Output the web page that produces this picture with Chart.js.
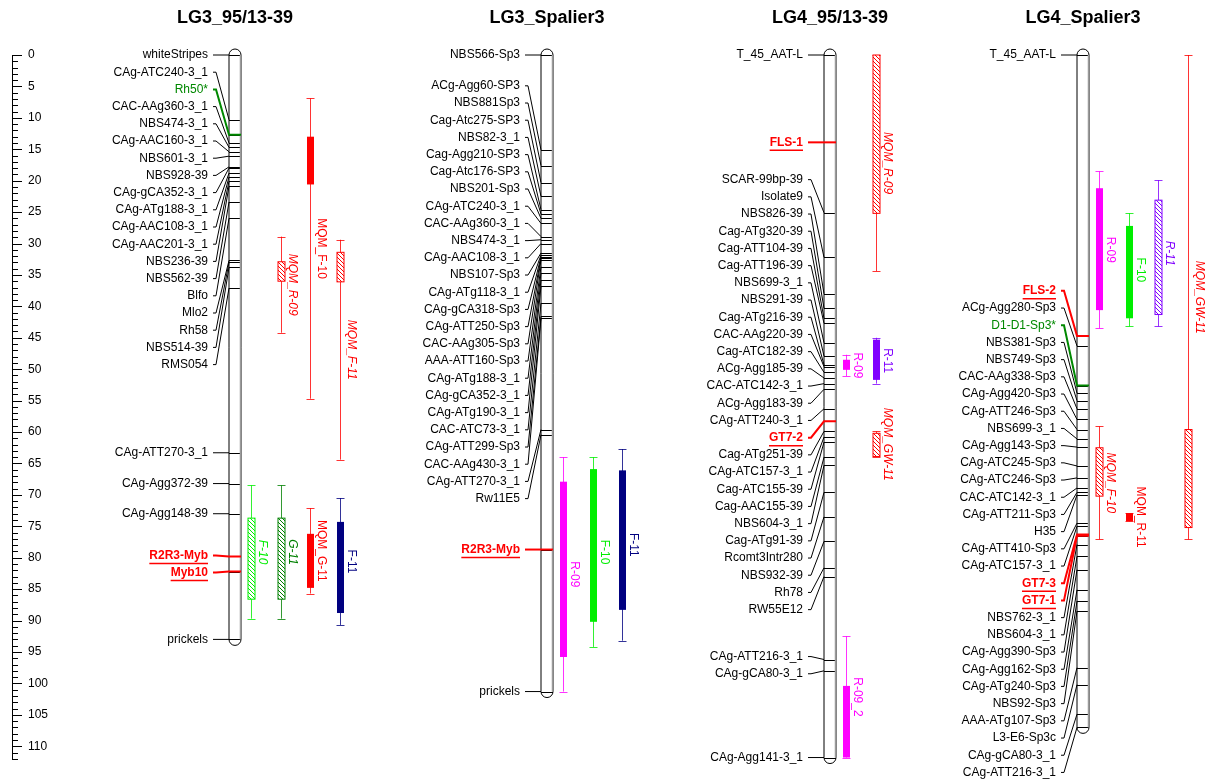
<!DOCTYPE html>
<html>
<head>
<meta charset="utf-8">
<title>Linkage groups LG3 / LG4</title>
<script src="https://cdn.jsdelivr.net/npm/chart.js@4.4.1/dist/chart.umd.min.js"></script>
<style>
  html, body { margin: 0; padding: 0; background: #fff; }
  #wrap { width: 1212px; height: 782px; position: relative; }
</style>
</head>
<body>
<div id="wrap"><canvas id="map"></canvas></div>
<script>
// linkage groups, left to right
const groups = ['LG3_95/13-39', 'LG3_Spalier3', 'LG4_95/13-39', 'LG4_Spalier3'];

// cM scale labels
const cmTicks = [0, 5, 10, 15, 20, 25, 30, 35, 40, 45, 50, 55, 60, 65, 70, 75, 80, 85, 90, 95, 100, 105, 110];

// markers (name + position in cM) per linkage group
const lg1Markers = ['whiteStripes', 'CAg-ATC240-3_1', 'Rh50*', 'CAC-AAg360-3_1', 'NBS474-3_1', 'CAg-AAC160-3_1',
  'NBS601-3_1', 'NBS928-39', 'CAg-gCA352-3_1', 'CAg-ATg188-3_1', 'CAg-AAC108-3_1', 'CAg-AAC201-3_1',
  'NBS236-39', 'NBS562-39', 'Blfo', 'Mlo2', 'Rh58', 'NBS514-39', 'RMS054', 'CAg-ATT270-3_1',
  'CAg-Agg372-39', 'CAg-Agg148-39', 'R2R3-Myb', 'Myb10', 'prickels'];
const lg1Pos = [0, 10.3, 12.7, 14.0, 14.7, 15.4, 16.1, 17.8, 18.0, 18.8, 19.4, 20.1, 20.9, 23.4, 26.0,
  32.7, 33.0, 33.8, 37.1, 63.3, 68.2, 73.0, 79.8, 82.2, 93.0];

const lg2Markers = ['NBS566-Sp3', 'ACg-Agg60-SP3', 'NBS881Sp3', 'Cag-Atc275-SP3', 'NBS82-3_1', 'Cag-Agg210-SP3',
  'Cag-Atc176-SP3', 'NBS201-Sp3', 'CAg-ATC240-3_1', 'CAC-AAg360-3_1', 'NBS474-3_1', 'CAg-AAC108-3_1',
  'NBS107-Sp3', 'CAg-ATg118-3_1', 'CAg-gCA318-Sp3', 'CAg-ATT250-Sp3', 'CAC-AAg305-Sp3', 'AAA-ATT160-Sp3',
  'CAg-ATg188-3_1', 'CAg-gCA352-3_1', 'CAg-ATg190-3_1', 'CAC-ATC73-3_1', 'CAg-ATT299-Sp3', 'CAC-AAg430-3_1',
  'CAg-ATT270-3_1', 'Rw11E5', 'R2R3-Myb', 'prickels'];
const lg2Pos = [0, 15.1, 17.6, 20.3, 22.5, 24.6, 25.3, 26.0, 26.8, 28.9, 29.4, 30.0, 31.5, 31.8, 32.1, 32.3,
  32.6, 33.7, 34.7, 35.8, 36.8, 39.5, 41.6, 41.9, 59.6, 60.4, 78.7, 101.3];

const lg3Markers = ['T_45_AAT-L', 'FLS-1', 'SCAR-99bp-39', 'Isolate9', 'NBS826-39', 'Cag-ATg320-39',
  'Cag-ATT104-39', 'Cag-ATT196-39', 'NBS699-3_1', 'NBS291-39', 'Cag-ATg216-39', 'CAC-AAg220-39',
  'Cag-ATC182-39', 'ACg-Agg185-39', 'CAC-ATC142-3_1', 'ACg-Agg183-39', 'CAg-ATT240-3_1', 'GT7-2',
  'Cag-ATg251-39', 'CAg-ATC157-3_1', 'Cag-ATC155-39', 'Cag-AAC155-39', 'NBS604-3_1', 'Cag-ATg91-39',
  'Rcomt3Intr280', 'NBS932-39', 'Rh78', 'RW55E12', 'CAg-ATT216-3_1', 'CAg-gCA80-3_1', 'CAg-Agg141-3_1'];
const lg3Pos = [0, 13.9, 25.1, 32.2, 38.0, 40.3, 41.9, 42.7, 45.8, 47.9, 49.3, 49.6, 50.5, 51.4, 52.3, 53.2,
  56.3, 58.3, 59.9, 60.8, 61.6, 64.0, 65.3, 69.6, 73.5, 77.4, 81.6, 83.0, 96.2, 98.0, 111.8];

const lg4Markers = ['T_45_AAT-L', 'FLS-2', 'ACg-Agg280-Sp3', 'D1-D1-Sp3*', 'NBS381-Sp3', 'NBS749-Sp3',
  'CAC-AAg338-Sp3', 'CAg-Agg420-Sp3', 'CAg-ATT246-Sp3', 'NBS699-3_1', 'CAg-Agg143-Sp3', 'CAg-ATC245-Sp3',
  'CAg-ATC246-Sp3', 'CAC-ATC142-3_1', 'CAg-ATT211-Sp3', 'H35', 'CAg-ATT410-Sp3', 'CAg-ATC157-3_1', 'GT7-3',
  'GT7-1', 'NBS762-3_1', 'NBS604-3_1', 'CAg-Agg390-Sp3', 'CAg-Agg162-Sp3', 'CAg-ATg240-Sp3', 'NBS92-Sp3',
  'AAA-ATg107-Sp3', 'L3-E6-Sp3c', 'CAg-gCA80-3_1', 'CAg-ATT216-3_1'];
const lg4Pos = [0, 44.7, 46.3, 52.6, 53.8, 55.0, 56.3, 58.0, 59.6, 61.1, 62.4, 65.4, 67.3, 68.9, 69.6, 70.0,
  74.5, 75.0, 76.3, 76.5, 77.9, 79.8, 81.9, 85.1, 86.9, 88.5, 97.5, 100.2, 104.9, 107.0];

// candidate genes (shown bold red, underlined)
const geneMarkers = ['R2R3-Myb', 'Myb10', 'FLS-1', 'FLS-2', 'GT7-2', 'GT7-3', 'GT7-1'];

// QTL intervals: outer = whisker, inner = box, suggestive ones are hatched
const qtlNames = ['MQM_F-10', 'MQM_R-09', 'MQM_F-11', 'F-10', 'G-11', 'MQM_G-11', 'F-11',
  'R-09', 'F-10', 'F-11',
  'MQM_R-09', 'R-09', 'R-11', 'MQM_GW-11', 'R-09_2',
  'R-09', 'F-10', 'R-11', 'MQM_GW-11', 'MQM_F-10', 'MQM_R-11'];
const qtlGroup = [0, 0, 0, 0, 0, 0, 0, 1, 1, 1, 2, 2, 2, 2, 2, 3, 3, 3, 3, 3, 3];
const qtlFrom = [6.9, 28.9, 29.4, 68.5, 68.5, 72.1, 70.5, 64.0, 64.0, 62.7,
  0, 47.7, 45.0, 59.9, 92.5, 18.5, 25.2, 19.9, 0, 59.1, 72.9];
const qtlTo = [54.7, 44.2, 64.4, 89.7, 89.7, 85.7, 90.7, 101.3, 94.2, 93.2,
  34.4, 51.1, 52.3, 64.0, 111.8, 43.5, 43.2, 43.2, 77.1, 77.1, 74.2];
const qtlBoxFrom = [13.0, 32.9, 31.4, 73.7, 73.7, 76.2, 74.3, 67.9, 65.9, 66.1,
  0, 48.5, 45.3, 60.2, 100.4, 21.2, 27.2, 23.1, 59.6, 62.5, 72.9];
const qtlBoxTo = [20.6, 36.0, 36.1, 86.6, 86.6, 84.8, 88.8, 95.8, 90.2, 88.3,
  25.2, 50.1, 51.7, 63.9, 111.8, 40.6, 41.9, 41.3, 75.2, 70.2, 74.2];
const qtlSuggestive = [false, true, true, true, true, false, false, false, false, false,
  true, false, false, true, false, false, false, true, true, true, false];

// ---- layout / style (not data) ----
const chromX = [235, 547, 830, 1083];
const qtlSlot = [2, 1, 3, 0, 1, 2, 3, 0, 1, 2, 1, 0, 1, 1, 0, 0, 1, 2, 3, 0, 1];
const slotOffset = [16, 45.5, 75.2, 105];
const traitColour = { 'F-10': '#00ee00', 'G-11': '#008000', 'F-11': '#000080',
  'R-09': '#ff00ff', 'R-09_2': '#ff00ff', 'R-11': '#8000ff' };
const FONT = '"Liberation Sans", Arial, sans-serif';
const GAP = 17.2;
const HALF = 6;

const markerSets = [lg1Markers, lg2Markers, lg3Markers, lg4Markers];
const posSets = [lg1Pos, lg2Pos, lg3Pos, lg4Pos];

function qtlColour(name) {
  return name.startsWith('MQM_') ? '#ff0000' : traitColour[name];
}

function fade(hex, a) {
  const n = parseInt(hex.slice(1), 16);
  return `rgba(${n >> 16},${(n >> 8) & 255},${n & 255},${a})`;
}

function hatch(ctx, colour) {
  const c = document.createElement('canvas');
  c.width = 4; c.height = 4;
  const p = c.getContext('2d');
  p.strokeStyle = colour;
  p.lineWidth = 1;
  p.beginPath();
  p.moveTo(-1, -1); p.lineTo(5, 5);
  p.moveTo(-1, 3); p.lineTo(1, 5);
  p.moveTo(3, -1); p.lineTo(5, 1);
  p.stroke();
  return ctx.createPattern(c, 'repeat');
}

// spread labels so they don't overlap; clusters are centred on their marker range
function spreadLabels(ideal, gap, top) {
  const clusters = [];
  const place = c => {
    const n = c.hi - c.lo + 1;
    let start = (ideal[c.lo] + ideal[c.hi]) / 2 - (n - 1) * gap / 2;
    if (start < top) start = top;
    c.start = start;
    c.end = start + (n - 1) * gap;
  };
  for (let i = ideal.length - 1; i >= 0; i--) {
    const c = { lo: i, hi: i };
    place(c);
    clusters.unshift(c);
    while (clusters.length > 1 && clusters[0].end + gap > clusters[1].start + 0.01) {
      const a = clusters.shift();
      clusters[0].lo = a.lo;
      place(clusters[0]);
    }
  }
  const out = [];
  clusters.forEach(c => {
    for (let k = c.lo; k <= c.hi; k++) out[k] = c.start + (k - c.lo) * gap;
  });
  return out;
}

const mapPlugin = {
  id: 'linkageMap',
  afterDraw(chart) {
    const { ctx, scales: { x, y } } = chart;
    const spine = y.right;
    ctx.save();

    // minor / major ticks of the cM ruler
    ctx.strokeStyle = '#000';
    ctx.lineWidth = 1;
    ctx.beginPath();
    for (let v = 0; v <= y.max; v++) {
      const py = Math.round(y.getPixelForValue(v)) + 0.5;
      const len = cmTicks.includes(v) ? 10 : 6;
      ctx.moveTo(spine, py);
      ctx.lineTo(spine + len, py);
    }
    ctx.stroke();

    groups.forEach((name, g) => {
      const cx = x.getPixelForValue(chromX[g]);
      const names = markerSets[g];
      const pos = posSets[g];
      const ideal = pos.map(p => y.getPixelForValue(p));
      const labelY = spreadLabels(ideal, GAP, y.getPixelForValue(0));
      const top = ideal[0];
      const bottom = ideal[ideal.length - 1];
      const left = cx - HALF, right = cx + HALF;

      // title
      ctx.fillStyle = '#000';
      ctx.font = `bold 18px ${FONT}`;
      ctx.textAlign = 'center';
      ctx.textBaseline = 'middle';
      ctx.fillText(name, cx, 18);

      // chromosome body
      ctx.beginPath();
      ctx.moveTo(left, top);
      ctx.arc(cx, top, HALF, Math.PI, 0);
      ctx.lineTo(right, bottom);
      ctx.arc(cx, bottom, HALF, 0, Math.PI);
      ctx.closePath();
      ctx.fillStyle = '#fff';
      ctx.fill();

      // plain marker ticks
      ctx.strokeStyle = '#000';
      ctx.lineWidth = 1;
      ctx.beginPath();
      ideal.forEach(py => {
        const yy = Math.round(py) + 0.5;
        ctx.moveTo(left, yy);
        ctx.lineTo(right, yy);
      });
      ctx.stroke();

      // outline with grey shade on the right
      ctx.beginPath();
      ctx.moveTo(left, top);
      ctx.arc(cx, top, HALF, Math.PI, 0);
      ctx.lineTo(right, bottom);
      ctx.arc(cx, bottom, HALF, 0, Math.PI);
      ctx.closePath();
      ctx.strokeStyle = '#000';
      ctx.stroke();
      ctx.beginPath();
      ctx.moveTo(right - 0.5, top);
      ctx.lineTo(right - 0.5, bottom);
      ctx.strokeStyle = '#9a9a9a';
      ctx.lineWidth = 1.5;
      ctx.stroke();

      // labels and connectors
      const labelRight = left - 21;
      names.forEach((m, i) => {
        const gene = geneMarkers.includes(m);
        const starred = m.endsWith('*');
        const colour = gene ? '#ff0000' : starred ? '#008800' : '#000';
        const ly = labelY[i];
        ctx.beginPath();
        ctx.moveTo(left - 16, ly);
        ctx.lineTo(left - 13, ly);
        ctx.lineTo(left, ideal[i]);
        if (gene || starred) ctx.lineTo(right, ideal[i]);
        ctx.strokeStyle = colour;
        ctx.lineWidth = gene || starred ? 2 : 1;
        ctx.stroke();

        ctx.fillStyle = colour;
        ctx.font = `${gene ? 'bold ' : ''}12px ${FONT}`;
        ctx.textAlign = 'right';
        ctx.textBaseline = 'middle';
        ctx.fillText(m, labelRight, ly);
        if (gene) {
          const w = ctx.measureText(m).width;
          ctx.beginPath();
          ctx.moveTo(labelRight - w, ly + 8);
          ctx.lineTo(labelRight, ly + 8);
          ctx.lineWidth = 1.5;
          ctx.stroke();
        }
      });
    });

    // QTL bars
    qtlNames.forEach((q, i) => {
      const g = qtlGroup[i];
      const sx = Math.round(x.getPixelForValue(chromX[g]) + slotOffset[qtlSlot[i]]) + 0.5;
      const col = qtlColour(q);
      const y1 = y.getPixelForValue(qtlFrom[i]);
      const y2 = y.getPixelForValue(qtlTo[i]);
      const b1 = y.getPixelForValue(qtlBoxFrom[i]);
      const b2 = y.getPixelForValue(qtlBoxTo[i]);

      ctx.strokeStyle = fade(col, 0.8);
      ctx.lineWidth = 1;
      ctx.beginPath();
      ctx.moveTo(sx, y1); ctx.lineTo(sx, y2);
      ctx.moveTo(sx - 4, Math.round(y1) + 0.5); ctx.lineTo(sx + 4, Math.round(y1) + 0.5);
      ctx.moveTo(sx - 4, Math.round(y2) + 0.5); ctx.lineTo(sx + 4, Math.round(y2) + 0.5);
      ctx.stroke();

      const bx = sx - 3.5;
      if (qtlSuggestive[i]) {
        ctx.fillStyle = '#fff';
        ctx.fillRect(bx, b1, 7, b2 - b1);
        ctx.fillStyle = hatch(ctx, col);
        ctx.fillRect(bx, b1, 7, b2 - b1);
        ctx.strokeStyle = col;
        ctx.strokeRect(bx, b1, 7, b2 - b1);
      } else {
        ctx.fillStyle = col;
        ctx.fillRect(bx, b1, 7, b2 - b1);
      }

      ctx.save();
      ctx.translate(sx + 7, (y1 + y2) / 2);
      ctx.rotate(Math.PI / 2);
      ctx.fillStyle = col;
      ctx.font = `${qtlSuggestive[i] ? 'italic ' : ''}12px ${FONT}`;
      ctx.textAlign = 'center';
      ctx.textBaseline = 'alphabetic';
      ctx.fillText(q, 0, 0);
      ctx.restore();
    });

    ctx.restore();
  }
};

new Chart(document.getElementById('map'), {
  type: 'scatter',
  data: { datasets: [{ data: [] }] },
  options: {
    responsive: true,
    maintainAspectRatio: false,
    animation: false,
    layout: { padding: { left: 12, right: 0, top: 55, bottom: 23 } },
    plugins: { legend: { display: false }, tooltip: { enabled: false } },
    scales: {
      x: { type: 'linear', display: false, min: 12, max: 1212 },
      y: {
        type: 'linear',
        reverse: true,
        min: 0,
        max: 112,
        afterFit: axis => { axis.width = 0; },
        afterBuildTicks: axis => { axis.ticks = cmTicks.map(v => ({ value: v })); },
        border: { display: true, color: '#000', width: 1 },
        grid: { display: true, drawOnChartArea: false, drawTicks: false },
        ticks: {
          autoSkip: false,
          mirror: true,
          padding: 16,
          color: '#000',
          font: { size: 12, family: FONT },
          callback: v => String(v)
        }
      }
    }
  },
  plugins: [mapPlugin]
});
</script>
</body>
</html>
